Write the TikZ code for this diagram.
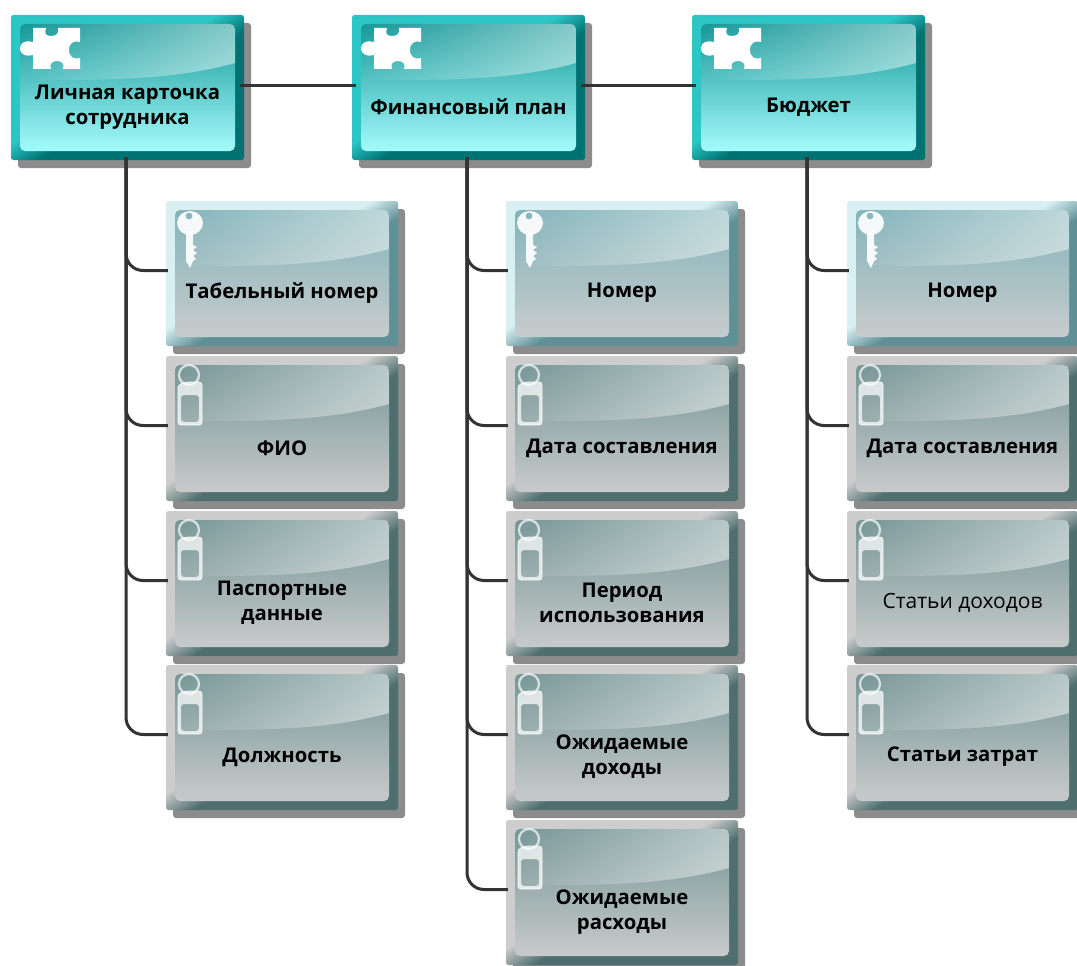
\documentclass[tikz,border=0pt]{standalone}
\usepackage{fontspec}
\setmainfont{Open Sans}
\usetikzlibrary{fadings}
% palettes: L rim light, D rim dark, T inner top, B inner bottom
\definecolor{tealL}{HTML}{2CC6C6}\definecolor{tealD}{HTML}{007272}\definecolor{tealT}{HTML}{169898}\definecolor{tealB}{HTML}{A4FBFB}
\definecolor{keyL}{HTML}{D8F0F2}\definecolor{keyD}{HTML}{5F9096}\definecolor{keyT}{HTML}{82B4BA}\definecolor{keyB}{HTML}{C8CCCC}
\definecolor{tagL}{HTML}{CDCDCD}\definecolor{tagD}{HTML}{4F6F6F}\definecolor{tagT}{HTML}{769696}\definecolor{tagB}{HTML}{C8CACA}
\definecolor{shadowc}{HTML}{8C8C8C}
\definecolor{linkc}{HTML}{333333}
\pgfdeclarehorizontalshading{rimteal}{100bp}{color(0bp)=(tealL); color(46bp)=(tealL); color(54bp)=(tealD); color(100bp)=(tealD)}
\pgfdeclarehorizontalshading{rimkey}{100bp}{color(0bp)=(keyL); color(46bp)=(keyL); color(54bp)=(keyD); color(100bp)=(keyD)}
\pgfdeclarehorizontalshading{rimtag}{100bp}{color(0bp)=(tagL); color(46bp)=(tagL); color(54bp)=(tagD); color(100bp)=(tagD)}
\tikzset{
  x=1pt,y=-1pt,
  conn/.style={draw=linkc,line width=3pt,rounded corners=17pt},
  straightconn/.style={draw=linkc,line width=3pt},
  cardtext/.style={align=center,inner sep=0pt,text=black,font=\bfseries\fontsize{20.3}{25}\selectfont},
}
\newcommand\iconpuzzle{%
  \fill[white] (22,13) -- (35,13) .. controls (33,19) and (35,21) .. (40,21)
    .. controls (45,21) and (48,19) .. (47,13) -- (69,13) -- (69,27)
    .. controls (63,25) and (58,28) .. (58,35) .. controls (58,42) and (63,45) .. (69,43)
    -- (69,54) -- (52,54) .. controls (54,49) and (51,46) .. (46,46)
    .. controls (41,46) and (38,49) .. (40,54) -- (22,54) -- (22,40)
    .. controls (16,42) and (9,40) .. (9,33) .. controls (9,27) and (16,25) .. (22,27) -- cycle;}
\newcommand\iconkey{%
  \fill[white,opacity=.92,even odd rule] (24,22) ellipse [x radius=13,y radius=12]
    (23,15) circle [radius=3.5];
  \fill[white,opacity=.92] (20,30) -- (27,30) -- (27,44) -- (31,46) -- (27,49) -- (31,52) -- (27,55) -- (30,58) -- (27,60) -- (24,67) -- (20,60) -- cycle;}
\newcommand\icontag{%
  \draw[white,opacity=.7,line width=2.2pt] (23,19) circle [radius=10];
  \fill[white,opacity=.72,even odd rule,rounded corners=3pt] (12,29) -- (20,26) -- (36,26) -- (36,69) -- (12,69) -- cycle
    (15,39) rectangle (33,66);
  \draw[white,opacity=.9,line width=.8pt,rounded corners=3pt] (12,29) -- (20,26) -- (36,26) -- (36,69) -- (12,69) -- cycle;}
% name, x, y, width, height, palette, icon, text
\newcommand\gcard[8]{%
  \begin{scope}[shift={(#2,#3)}]
    \fill[shadowc,rounded corners=3pt] (7,8) rectangle (#4+7,#5+8);
    \shade[shading=rim#6,shading angle=-58,rounded corners=2.5pt] (0,0) rectangle (#4,#5);
    \shade[top color=#6T,bottom color=#6B,rounded corners=5pt] (9,9) rectangle (#4-9,#5-9);
    \begin{scope}
      \clip[rounded corners=5pt] (9,9) rectangle (#4-9,#5-9);
      \fill[white,opacity=.48,path fading=west] (9,9) -- (#4-9,9) -- (#4-9,48)
        .. controls (#4-60,62) and (#4-120,67) .. (9,64) -- cycle;
    \end{scope}
    #7
    \node[inner sep=0pt,minimum width=#4,minimum height=#5] (#1) at (#4/2,#5/2) {};
    \node[cardtext] (#1t) at (#4/2,#5/2+19.5) {#8};
  \end{scope}}
\begin{document}
\begin{tikzpicture}
  \clip (0,0) rectangle (1077,966);
  \fill[white] (0,0) rectangle (1077,966);
  % entities
  \gcard{a}{11}{15}{233}{145}{teal}{\iconpuzzle}{Личная карточка\\сотрудника}
  \gcard{b}{352}{15}{233}{145}{teal}{\iconpuzzle}{Финансовый план}
  \gcard{c}{692}{15}{233}{145}{teal}{\iconpuzzle}{Бюджет}
  % column 1
  \gcard{a1}{166}{201}{232}{145}{key}{\iconkey}{Табельный номер}
  \gcard{a2}{166}{356}{232}{145}{tag}{\icontag}{ФИО}
  \gcard{a3}{166}{511}{232}{145}{tag}{\icontag}{Паспортные\\данные}
  \gcard{a4}{166}{665}{232}{145}{tag}{\icontag}{Должность}
  % column 2
  \gcard{b1}{506}{201}{232}{145}{key}{\iconkey}{Номер}
  \gcard{b2}{506}{356}{232}{145}{tag}{\icontag}{Дата составления}
  \gcard{b3}{506}{511}{232}{145}{tag}{\icontag}{Период\\использования}
  \gcard{b4}{506}{665}{232}{145}{tag}{\icontag}{Ожидаемые\\доходы}
  \gcard{b5}{506}{820}{232}{145}{tag}{\icontag}{Ожидаемые\\расходы}
  % column 3
  \gcard{c1}{847}{201}{231}{145}{key}{\iconkey}{Номер}
  \gcard{c2}{847}{356}{231}{145}{tag}{\icontag}{Дата составления}
  \gcard{c3}{847}{511}{231}{145}{tag}{\icontag}{\mdseries\fontsize{21}{25}\selectfont Статьи доходов}
  \gcard{c4}{847}{665}{231}{145}{tag}{\icontag}{Статьи затрат}
  % connectors
  \draw[straightconn] ([xshift=-4pt,yshift=1.5pt]a.east) -- ([xshift=4pt,yshift=1.5pt]b.west);
  \draw[straightconn] ([xshift=-4pt,yshift=1.5pt]b.east) -- ([xshift=4pt,yshift=1.5pt]c.west);
  \foreach \p/\c in {a/a1,a/a2,a/a3,a/a4,b/b1,b/b2,b/b3,b/b4,b/b5,c/c1,c/c2,c/c3,c/c4}{
    \draw[conn] ([xshift=-1.5pt,yshift=3pt]\p.south) |- ([xshift=2pt,yshift=3pt]\c.west);
  }
\end{tikzpicture}
\end{document}
